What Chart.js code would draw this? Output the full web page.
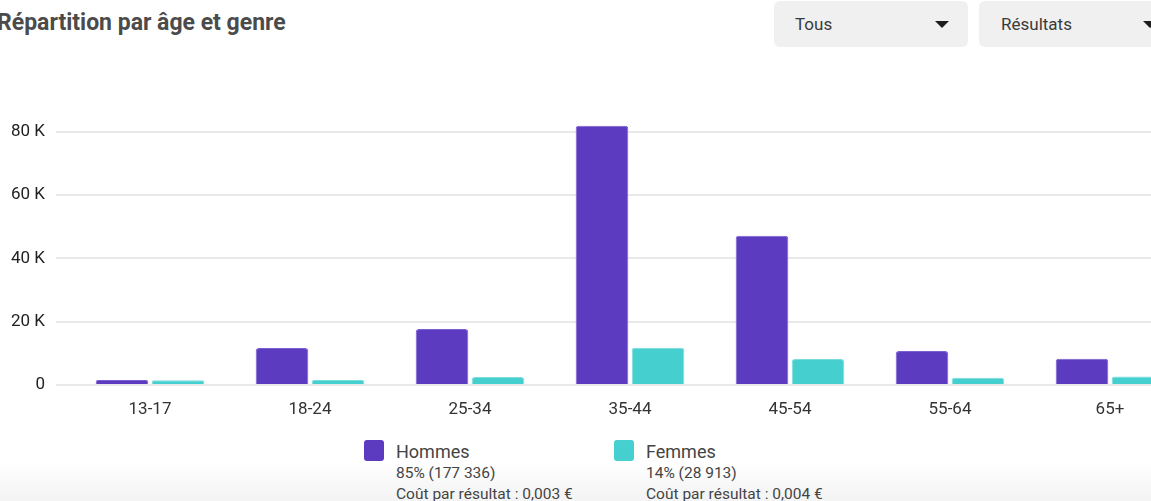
<!DOCTYPE html>
<html lang="fr">
<head>
<meta charset="utf-8">
<script src="https://cdn.jsdelivr.net/npm/chart.js@4"></script>
<style>
  html, body { margin: 0; padding: 0; }
  body { width: 1151px; height: 501px; overflow: hidden; position: relative; background: #fff; font-family: Roboto, "Noto Sans", sans-serif; }
  .abs { position: absolute; white-space: nowrap; }
  #title { left: -3px; top: 12px; font-size: 23px; line-height: 22px; font-weight: 700; color: #4b4b4b; }
  .dd { position: absolute; top: 1px; height: 46px; background: #f0f0f0; border-radius: 6px; }
  .dd span { position: absolute; top: 15px; font-size: 17px; line-height: 17px; color: #3a3a3a; }
  .arrow { position: absolute; top: 20px; width: 0; height: 0; border-left: 7px solid transparent; border-right: 7px solid transparent; border-top: 7px solid #1c1c1c; }
  #fade { left: 0; top: 464px; width: 1151px; height: 37px; background: linear-gradient(#ffffff, #f7f7f7 60%, #f4f4f4); }
  .sw { position: absolute; top: 440px; width: 20px; height: 21px; border-radius: 3px; }
  .lg1 { font-size: 18px; line-height: 18px; color: #444; top: 443px; }
  .lg2 { font-size: 15.5px; line-height: 15px; color: #444; top: 466px; }
  .lg3 { font-size: 15.5px; line-height: 15px; color: #444; top: 487px; }
  #wrap { position: absolute; left: 0; top: 1px; width: 1190px; height: 420px; }
</style>
</head>
<body>
<div id="fade" class="abs"></div>
<div id="title" class="abs">Répartition par âge et genre</div>

<div class="dd" style="left:774px;width:194px;"><span style="left:21px;">Tous</span><div class="arrow" style="left:161px;"></div></div>
<div class="dd" style="left:979px;width:190px;"><span style="left:22px;">Résultats</span><div class="arrow" style="left:164px;"></div></div>

<div id="wrap"><canvas id="chart" width="1190" height="420"></canvas></div>

<div class="sw" style="left:364px;background:#5c3bc0;"></div>
<div class="abs lg1" style="left:396px;">Hommes</div>
<div class="abs lg2" style="left:396px;">85% (177 336)</div>
<div class="abs lg3" style="left:396px;">Coût par résultat : 0,003 €</div>

<div class="sw" style="left:614px;background:#45cfcf;"></div>
<div class="abs lg1" style="left:646px;">Femmes</div>
<div class="abs lg2" style="left:646px;">14% (28 913)</div>
<div class="abs lg3" style="left:646px;">Coût par résultat : 0,004 €</div>

<script>
// ===== data =====
const ageGroups = ["13-17", "18-24", "25-34", "35-44", "45-54", "55-64", "65+"];
const hommes = [1600, 11700, 17700, 81900, 47100, 10700, 8300];
const femmes = [1500, 1600, 2500, 11800, 8200, 2300, 2700];
const yTicks = [0, 20000, 40000, 60000, 80000];

const purple = "#5c3bc0";
const teal = "#45cfcf";
const gridColor = "#e9e9e9";

new Chart(document.getElementById("chart"), {
  type: "bar",
  data: {
    labels: ageGroups,
    datasets: [
      { label: "Hommes", data: hommes, backgroundColor: purple, borderColor: "#7a5fd0", borderWidth: 1, borderRadius: 3 },
      { label: "Femmes", data: femmes, backgroundColor: teal, borderColor: "#7adcdc", borderWidth: 1, borderRadius: 3 }
    ]
  },
  options: {
    responsive: false,
    animation: false,
    devicePixelRatio: 1,
    categoryPercentage: 0.7,
    barPercentage: 0.94,
    layout: { padding: { top: 99, left: 0, right: 0, bottom: 0 } },
    plugins: { legend: { display: false }, tooltip: { enabled: false } },
    scales: {
      x: {
        grid: { display: false },
        border: { display: false },
        ticks: { color: "#333", padding: 7, font: { family: "Roboto", size: 17 } },
        afterFit: (s) => { s.height = 36; }
      },
      y: {
        min: 0,
        max: 90000,
        afterBuildTicks: (s) => { s.ticks = yTicks.map(v => ({ value: v })); },
        grid: { color: gridColor, lineWidth: 2, tickLength: 14, tickColor: gridColor },
        border: { display: false },
        ticks: {
          color: "#222",
          padding: 11,
          font: { family: "Roboto", size: 17 },
          callback: (v) => v === 0 ? "0" : (v / 1000) + " K"
        },
        afterFit: (s) => { s.width = 70; }
      }
    }
  }
});
</script>
</body>
</html>
